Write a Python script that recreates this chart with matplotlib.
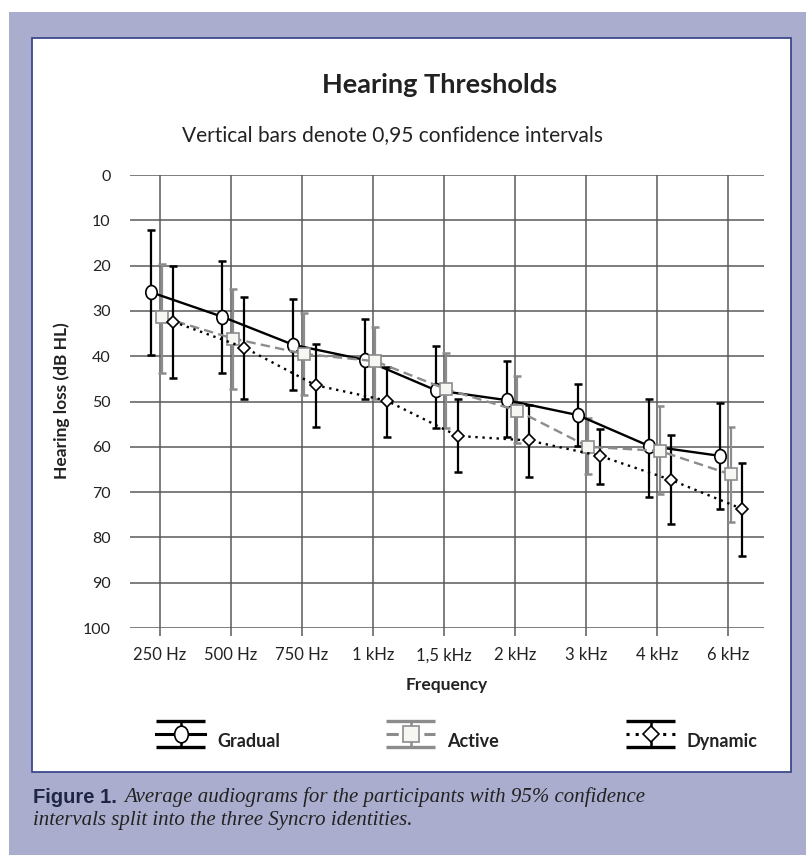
import matplotlib.pyplot as plt
import numpy as np
from matplotlib.patches import Rectangle
from matplotlib.path import Path
from matplotlib.transforms import Affine2D

plt.rcParams['font.family'] = ['Lato', 'DejaVu Sans']

freqs = ['250 Hz', '500 Hz', '750 Hz', '1 kHz', '1,5 kHz', '2 kHz', '3 kHz', '4 kHz', '6 kHz']
y_ticks = [0, 10, 20, 30, 40, 50, 60, 70, 80, 90, 100]

# mean thresholds and 95% CI limits (dB HL)
gradual_mean = [25.9, 31.3, 37.5, 40.8, 47.5, 49.7, 53.0, 59.8, 62.0]
gradual_lo = [12.1, 19.0, 27.4, 31.8, 37.7, 41.1, 46.2, 49.5, 50.4]
gradual_hi = [39.7, 43.8, 47.5, 49.4, 55.9, 57.9, 59.8, 71.0, 73.7]

active_mean = [31.4, 36.1, 39.5, 41.1, 47.3, 52.0, 60.0, 60.9, 66.1]
active_lo = [19.6, 25.2, 30.4, 33.6, 39.2, 44.3, 53.7, 50.9, 55.6]
active_hi = [43.8, 47.2, 48.6, 49.4, 55.9, 59.2, 65.9, 70.5, 76.5]

dynamic_mean = [32.4, 38.1, 46.4, 49.8, 57.6, 58.6, 62.0, 67.3, 73.7]
dynamic_lo = [20.1, 27.0, 37.3, 42.3, 49.4, 50.8, 56.1, 57.5, 63.6]
dynamic_hi = [44.9, 49.4, 55.6, 57.9, 65.6, 66.7, 68.2, 77.0, 84.0]

W, H = 806, 855
fig = plt.figure(figsize=(W / 100, H / 100), dpi=100)
fig.patch.set_facecolor('white')


def fx(px):
    return px / W


def fy(py):
    return 1 - py / H


# page background + white chart box
fig.add_artist(Rectangle((fx(9), 0), 1, fy(12), transform=fig.transFigure,
                         facecolor='#aaadce', edgecolor='none', zorder=-2))
fig.add_artist(Rectangle((fx(32), fy(772)), fx(791) - fx(32), fy(38) - fy(772),
                         transform=fig.transFigure, facecolor='white',
                         edgecolor='#3b4a8c', lw=1.3, zorder=-1))

ax = fig.add_axes([fx(130), fy(628), fx(764) - fx(130), fy(175) - fy(628)])
ax.set_facecolor('none')
x = np.arange(len(freqs))

ellipse = Path.unit_circle().transformed(Affine2D().scale(0.82, 1.0))
grey = '#8c8c8c'

series = [
    (gradual_mean, gradual_lo, gradual_hi, -0.12, dict(color='black', ls='-', marker=ellipse,
                                                        mfc='white', mec='black', ms=10), 'black'),
    (active_mean, active_lo, active_hi, 0.03, dict(color=grey, ls=(0, (4, 2.2)), marker='s',
                                                    mfc='#f6f6f2', mec=grey, ms=9), grey),
    (dynamic_mean, dynamic_lo, dynamic_hi, 0.19, dict(color='black', ls=(0, (1, 2)), marker='D',
                                                       mfc='white', mec='black', ms=6.5), 'black'),
]

for mean, lo, hi, off, st, ecol in series:
    m = np.array(mean)
    yerr = [m - np.array(lo), np.array(hi) - m]
    ax.errorbar(x + off, m, yerr=yerr, fmt='none', ecolor=ecol, elinewidth=1.6,
                capsize=3, capthick=1.8, zorder=3)
    ax.plot(x + off, m, lw=1.7, mew=1.2, zorder=4, **st)

ax.set_xlim(-0.42, 8.5)
ax.set_ylim(100, 0)
ax.set_yticks(y_ticks)
ax.set_xticks(x, freqs)
ax.grid(True, color='#5a5a5a', lw=1.1, zorder=0)
for s in ax.spines.values():
    s.set_visible(False)
ax.tick_params(axis='y', length=0, pad=14, labelsize=11.5, labelcolor='#222222')
ax.tick_params(axis='x', length=6, width=1.1, color='#5a5a5a', pad=8, labelsize=12,
               labelcolor='#222222')

# titles and axis labels
fig.text(fx(440), fy(85), 'Hearing Thresholds', ha='center', va='center',
         fontsize=19.5, fontweight='bold', color='#222222')
fig.text(fx(392), fy(135), 'Vertical bars denote 0,95 confidence intervals',
         ha='center', va='center', fontsize=15, color='#222222')
fig.text(fx(62), fy(401), 'Hearing loss (dB HL)', rotation=90, ha='center', va='center',
         fontsize=12.5, fontweight='bold', color='#222222')
fig.text(fx(447), fy(685), 'Frequency', ha='center', va='center',
         fontsize=12.5, fontweight='bold', color='#222222')

# hand-drawn legend keys
lax = fig.add_axes([0, 0, 1, 1])
lax.set_xlim(0, W)
lax.set_ylim(H, 0)
lax.axis('off')


def legend_key(x0, label, st, ecol):
    x1 = x0 + 49
    xc = (x0 + x1) / 2
    top, mid, bot = 721, 734, 747
    lax.plot([x0, x1], [top, top], color=ecol, lw=2.4, solid_capstyle='butt')
    lax.plot([x0, x1], [bot, bot], color=ecol, lw=2.4, solid_capstyle='butt')
    lax.plot([xc, xc], [top, bot], color=ecol, lw=1.8)
    lax.plot([x0, x1], [mid, mid], lw=2.2, color=st['color'], ls=st['ls'])
    lax.plot([xc], [mid], ls='none', marker=st['marker'], mfc=st['mfc'], mec=st['mec'],
             ms=st['ms'] + 2, mew=1.2)
    lax.text(x1 + 12, bot, label, ha='left', va='baseline', fontsize=13,
             fontweight='bold', color='#222222')


legend_key(156, 'Gradual', series[0][4], series[0][5])
legend_key(386, 'Active', series[1][4], series[1][5])
legend_key(626, 'Dynamic', series[2][4], series[2][5])

# caption
fig.text(fx(33), fy(797), 'Figure 1.', ha='left', va='center', fontsize=14.5,
         fontweight='bold', family=['Liberation Sans', 'DejaVu Sans'], color='#1f2545')
fig.text(fx(124), fy(797), 'Average audiograms for the participants with 95% confidence',
         ha='left', va='center', fontsize=15, style='italic', family='Liberation Serif',
         color='#222222')
fig.text(fx(33), fy(820), 'intervals split into the three Syncro identities.',
         ha='left', va='center', fontsize=15, style='italic', family='Liberation Serif',
         color='#222222')

fig.savefig('out.png', dpi=100)
